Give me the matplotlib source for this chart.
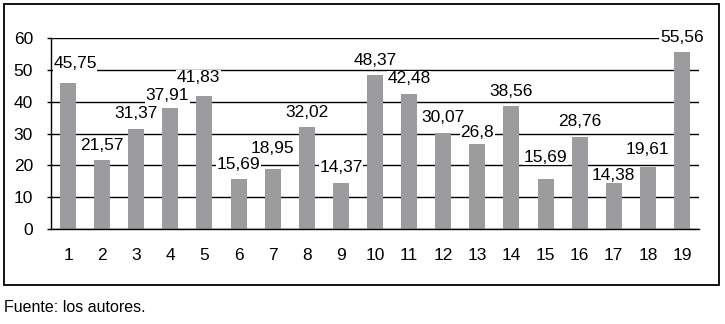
import matplotlib.pyplot as plt
from matplotlib.patches import Rectangle

plt.rcParams["font.family"] = ["Liberation Sans", "DejaVu Sans"]

categories = [str(i) for i in range(1, 20)]
values = [45.75, 21.57, 31.37, 37.91, 41.83, 15.69, 18.95, 32.02, 14.37, 48.37,
          42.48, 30.07, 26.8, 38.56, 15.69, 28.76, 14.38, 19.61, 55.56]
value_labels = ["45,75", "21,57", "31,37", "37,91", "41,83", "15,69", "18,95", "32,02",
                "14,37", "48,37", "42,48", "30,07", "26,8", "38,56", "15,69", "28,76",
                "14,38", "19,61", "55,56"]
y_ticks = [0, 10, 20, 30, 40, 50, 60]
footer = "Fuente: los autores."

# offsets of each data label from its bar top (pixels), as placed in the original
label_dx = [7, 0, 0, -3, -6, 0, 0, 0, 0, 0, 0, 0, 0, 0, 0, 0, 0, 0, 0]
label_dy = [20, 15, 16, 13, 18, 15, 20, 15, 16, 15, 15, 16, 11, 15, 22, 16, 8, 17, 15]

fig = plt.figure(figsize=(7.25, 3.24), dpi=100)
ax = fig.add_axes([51 / 725, 1 - 229 / 324, 648 / 725, 191 / 324])

x = list(range(len(categories)))
ax.bar(x, values, width=0.47, color="#9c9c9e", zorder=2)

for xi, v, lab, dx, dy in zip(x, values, value_labels, label_dx, label_dy):
    ax.annotate(lab, (xi, v), xytext=(dx, dy), textcoords="offset pixels",
                ha="center", va="center", fontsize=12.5, zorder=4,
                bbox=dict(facecolor="white", edgecolor="none", pad=0.5))

ax.set_xlim(-0.5, len(categories) - 0.5)
ax.set_ylim(0, 60)
ax.set_yticks(y_ticks)
ax.set_yticklabels([str(t) for t in y_ticks], fontsize=12.5)
ax.set_xticks(x)
ax.set_xticklabels(categories, fontsize=12.5)
ax.tick_params(axis="x", length=0, pad=14)
ax.tick_params(axis="y", length=3, width=1, pad=10, direction="out")
ax.yaxis.grid(True, color="black", linewidth=1, zorder=1)
ax.set_axisbelow(True)
for side in ["top", "right"]:
    ax.spines[side].set_visible(False)
ax.spines["left"].set_linewidth(1)
ax.spines["bottom"].set_linewidth(1)

fig.patches.append(Rectangle((4 / 725, 1 - 285 / 324), 715 / 725, 281 / 324,
                             transform=fig.transFigure, fill=False,
                             edgecolor="black", linewidth=1.3))
fig.text(4 / 725, 1 - 308 / 324, footer, fontsize=11.5, ha="left", va="center")

fig.savefig("out.png", dpi=100)
